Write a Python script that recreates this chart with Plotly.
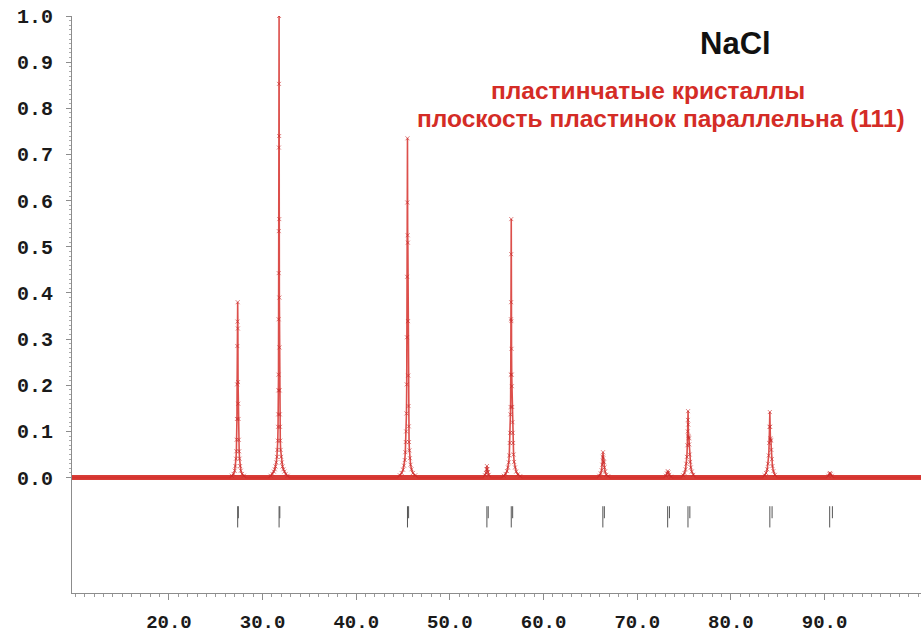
import plotly.graph_objects as go

# ---------------- data ----------------
X_RANGE = [9.65, 100.3]
Y_RANGE = [-0.25, 1.0]

# observed / calculated profile, one list pair per reflection
P111_X = [26.50, 26.70, 26.90, 27.02, 27.10, 27.16, 27.20, 27.23, 27.26, 27.28, 27.30, 27.32, 27.34, 27.36, 27.38, 27.40, 27.43, 27.46, 27.50, 27.54, 27.60, 27.68, 27.80, 28.00, 28.20]
P111_Y = [0.000, 0.004, 0.008, 0.015, 0.025, 0.041, 0.057, 0.082, 0.127, 0.202, 0.285, 0.338, 0.380, 0.323, 0.207, 0.160, 0.127, 0.082, 0.057, 0.041, 0.025, 0.015, 0.008, 0.004, 0.000]

P200_X = [30.70, 30.85, 31.05, 31.20, 31.30, 31.38, 31.46, 31.53, 31.58, 31.62, 31.65, 31.67, 31.69, 31.70, 31.71, 31.72, 31.73, 31.74, 31.75, 31.76, 31.77, 31.78, 31.79, 31.80, 31.82, 31.84, 31.86, 31.89, 31.93, 31.98, 32.05, 32.13, 32.22, 32.32, 32.47, 32.67, 32.85]
P200_Y = [0.000, 0.004, 0.008, 0.013, 0.018, 0.024, 0.033, 0.045, 0.060, 0.080, 0.110, 0.137, 0.189, 0.223, 0.343, 0.443, 0.534, 0.715, 0.853, 1.000, 0.740, 0.560, 0.390, 0.282, 0.189, 0.137, 0.110, 0.080, 0.060, 0.045, 0.033, 0.024, 0.018, 0.013, 0.008, 0.004, 0.000]

P220_X = [44.40, 44.65, 44.85, 45.00, 45.10, 45.18, 45.24, 45.29, 45.33, 45.36, 45.39, 45.41, 45.43, 45.45, 45.47, 45.49, 45.51, 45.53, 45.55, 45.58, 45.61, 45.64, 45.68, 45.73, 45.80, 45.90, 46.05, 46.30, 46.60]
P220_Y = [0.000, 0.005, 0.010, 0.017, 0.026, 0.038, 0.055, 0.077, 0.100, 0.139, 0.202, 0.304, 0.435, 0.596, 0.735, 0.525, 0.509, 0.339, 0.221, 0.155, 0.111, 0.077, 0.059, 0.042, 0.028, 0.018, 0.010, 0.005, 0.000]

P311_X = [53.55, 53.75, 53.85, 53.91, 53.95, 54.00, 54.06, 54.15, 54.40]
P311_Y = [0.000, 0.005, 0.010, 0.018, 0.025, 0.018, 0.012, 0.006, 0.000]

P222_X = [55.50, 55.75, 55.95, 56.10, 56.20, 56.28, 56.34, 56.39, 56.43, 56.46, 56.48, 56.50, 56.52, 56.535, 56.545, 56.55, 56.56, 56.58, 56.60, 56.62, 56.65, 56.68, 56.71, 56.75, 56.80, 56.86, 56.95, 57.08, 57.25, 57.50, 57.70]
P222_Y = [0.000, 0.004, 0.008, 0.014, 0.022, 0.033, 0.048, 0.075, 0.097, 0.137, 0.153, 0.223, 0.343, 0.380, 0.484, 0.560, 0.339, 0.279, 0.223, 0.198, 0.153, 0.120, 0.097, 0.075, 0.050, 0.034, 0.022, 0.013, 0.007, 0.003, 0.000]

P400_X = [65.75, 65.95, 66.10, 66.20, 66.27, 66.32, 66.35, 66.38, 66.41, 66.45, 66.50, 66.57, 66.70, 66.90, 67.10]
P400_Y = [0.000, 0.004, 0.009, 0.016, 0.028, 0.045, 0.055, 0.042, 0.035, 0.033, 0.022, 0.013, 0.006, 0.003, 0.000]

P331_X = [72.85, 73.05, 73.17, 73.26, 73.33, 73.42, 73.60, 73.80]
P331_Y = [0.000, 0.004, 0.009, 0.014, 0.011, 0.006, 0.002, 0.000]

P420_X = [74.70, 74.90, 75.05, 75.16, 75.24, 75.30, 75.35, 75.39, 75.41, 75.43, 75.45, 75.47, 75.50, 75.53, 75.56, 75.60, 75.65, 75.72, 75.82, 75.98, 76.20]
P420_Y = [0.000, 0.005, 0.010, 0.018, 0.030, 0.045, 0.070, 0.100, 0.125, 0.144, 0.115, 0.090, 0.087, 0.085, 0.072, 0.050, 0.034, 0.022, 0.013, 0.006, 0.000]

P422_X = [83.40, 83.60, 83.76, 83.88, 83.97, 84.04, 84.09, 84.13, 84.16, 84.19, 84.22, 84.25, 84.28, 84.32, 84.37, 84.44, 84.54, 84.70, 84.95]
P422_Y = [0.000, 0.005, 0.010, 0.018, 0.030, 0.048, 0.075, 0.110, 0.142, 0.110, 0.085, 0.082, 0.080, 0.060, 0.040, 0.025, 0.014, 0.006, 0.000]

P511_X = [90.20, 90.40, 90.52, 90.57, 90.66, 90.78, 90.95]
P511_Y = [0.000, 0.004, 0.008, 0.010, 0.008, 0.004, 0.000]

# background level (flat)
BASE_X = [9.65, 100.3]
BASE_Y = [0.0, 0.0]

# reflection positions (K-alpha1 and K-alpha2)
KA1_POS = [27.34, 31.76, 45.47, 53.95, 56.55, 66.33, 73.25, 75.42, 84.16, 90.55]
KA2_POS = [27.41, 31.84, 45.59, 54.09, 56.70, 66.49, 73.44, 75.62, 84.40, 90.84]
KA1_SPAN = [-0.062, -0.108]
KA2_SPAN = [-0.062, -0.088]

X_TICKS = [20, 30, 40, 50, 60, 70, 80, 90]
X_TICKTEXT = ["20.0", "30.0", "40.0", "50.0", "60.0", "70.0", "80.0", "90.0"]
Y_TICKS = [0.0, 0.1, 0.2, 0.3, 0.4, 0.5, 0.6, 0.7, 0.8, 0.9, 1.0]
Y_TICKTEXT = ["0.0", "0.1", "0.2", "0.3", "0.4", "0.5", "0.6", "0.7", "0.8", "0.9", "1.0"]

TITLE = "NaCl"
SUB1 = "пластинчатые кристаллы"
SUB2 = "плоскость пластинок параллельна (111)"

# ---------------- build ----------------
RED = "rgb(212,44,38)"
peaks = [(P111_X, P111_Y), (P200_X, P200_Y), (P220_X, P220_Y), (P311_X, P311_Y),
         (P222_X, P222_Y), (P400_X, P400_Y), (P331_X, P331_Y), (P420_X, P420_Y),
         (P422_X, P422_Y), (P511_X, P511_Y)]

prof_x, prof_y = [BASE_X[0]], [BASE_Y[0]]
for px, py in peaks:
    prof_x += px
    prof_y += py
prof_x.append(BASE_X[1])
prof_y.append(BASE_Y[1])

obs_x, obs_y = [], []
for px, py in peaks:
    obs_x += px[1:-1]
    obs_y += py[1:-1]

fig = go.Figure()

fig.add_trace(go.Scatter(x=BASE_X, y=BASE_Y, mode="lines",
                         line=dict(color="rgba(212,44,38,0.92)", width=5),
                         hoverinfo="skip", showlegend=False))
fig.add_trace(go.Scatter(x=prof_x, y=prof_y, mode="lines",
                         line=dict(color="rgba(214,48,44,0.85)", width=1.6),
                         showlegend=False))
fig.add_trace(go.Scatter(x=obs_x, y=obs_y, mode="markers",
                         marker=dict(symbol="x-thin", size=4,
                                     line=dict(color="rgba(200,40,40,0.6)", width=1)),
                         showlegend=False))

tx, ty = [], []
for p in KA1_POS:
    tx += [p, p, None]
    ty += [KA1_SPAN[0], KA1_SPAN[1], None]
for p in KA2_POS:
    tx += [p, p, None]
    ty += [KA2_SPAN[0], KA2_SPAN[1], None]
fig.add_trace(go.Scatter(x=tx, y=ty, mode="lines",
                         line=dict(color="#555555", width=1),
                         hoverinfo="skip", showlegend=False))

fig.add_annotation(x=80.5, y=0.94, xref="x", yref="y", text="<b>%s</b>" % TITLE,
                   showarrow=False, font=dict(family="Liberation Sans, Arial", size=31, color="#111111"))
fig.add_annotation(x=71.1, y=0.838, xref="x", yref="y", text="<b>%s</b>" % SUB1,
                   showarrow=False, font=dict(family="Liberation Sans, Arial", size=24.5, color=RED))
fig.add_annotation(x=72.5, y=0.778, xref="x", yref="y", text="<b>%s</b>" % SUB2,
                   showarrow=False, font=dict(family="Liberation Sans, Arial", size=24.5, color=RED))

y_font = dict(family="Liberation Mono, Courier New, monospace", size=20, color="#1a1a1a", weight="bold")
x_font = dict(family="Liberation Mono, Courier New, monospace", size=19, color="#1a1a1a", weight="bold")

fig.update_layout(
    width=922, height=634,
    margin=dict(l=72, r=1, t=16, b=41),
    paper_bgcolor="white", plot_bgcolor="white",
    showlegend=False,
    xaxis=dict(range=X_RANGE, showgrid=False, zeroline=False, automargin=False,
               showline=True, linecolor="#8c8c8c", linewidth=1,
               ticks="outside", ticklen=6, tickcolor="#8c8c8c",
               tickmode="array", tickvals=X_TICKS, ticktext=X_TICKTEXT,
               tickfont=x_font, ticklabelstandoff=5,
               minor=dict(ticks="outside", ticklen=3, tickcolor="#999999", dtick=1, showgrid=False)),
    yaxis=dict(range=Y_RANGE, showgrid=False, zeroline=False, automargin=False,
               showline=True, linecolor="#8c8c8c", linewidth=1,
               ticks="outside", ticklen=5, tickcolor="#8c8c8c",
               tickmode="array", tickvals=Y_TICKS, ticktext=Y_TICKTEXT,
               tickfont=y_font, ticklabelstandoff=9,
               minor=dict(ticks="outside", ticklen=2, tickcolor="#aaaaaa",
                          tickmode="array", tickvals=[round(i * 0.01, 2) for i in range(1, 100)],
                          showgrid=False)),
)

fig.write_html("out.html")
